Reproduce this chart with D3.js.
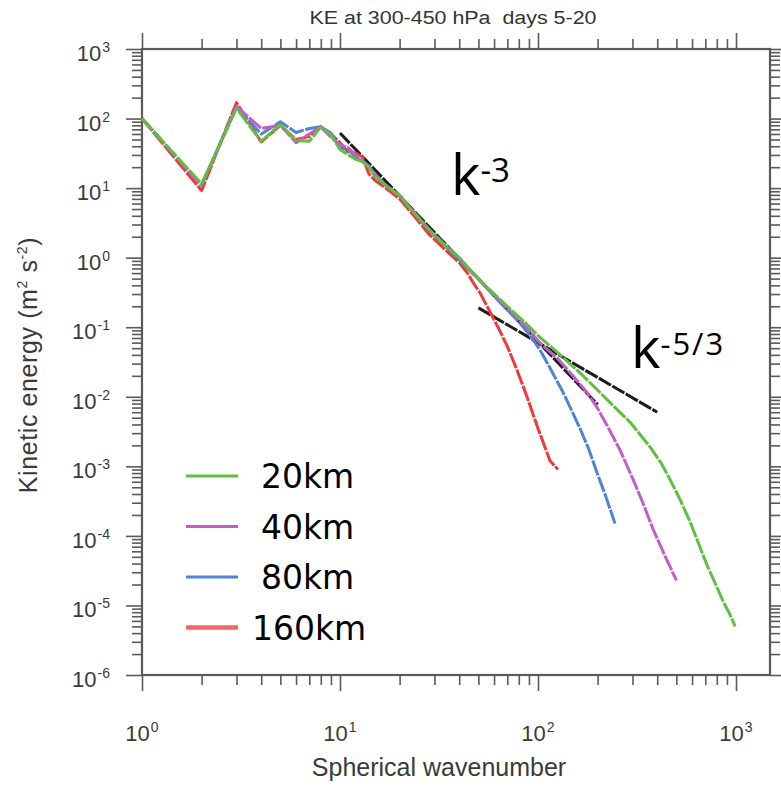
<!DOCTYPE html>
<html>
<head>
<meta charset="utf-8">
<script src="https://cdn.jsdelivr.net/npm/d3@7"></script>
<style>
  body { margin: 0; background: #fff; }
  svg { display: block; }
</style>
</head>
<body>
<svg width="781" height="786"></svg>
<script>
  // spectra: [wavenumber, kinetic energy]
  const ke20km = [[1,100],[2,11.5],[3,140],[4,47],[5,82],[6,48],[7,47],[8,76],[9,58],[10,36],[11,30],[12,26],[13,24],[14,20],[15,15],
    [17,11],[20,7.8],[24,4.2],[28,2.6],[34,1.5],[40,1.0],[45,0.68],[55,0.38],[70,0.2],[85,0.12],[102,0.072],[125,0.044],[163,0.022],
    [200,0.0125],[239,0.0075],[292,0.0043],[330,0.0028],[368,0.0019],[420,0.0011],[464,6.5e-4],[520,3.4e-4],[586,1.6e-4],[650,7.5e-5],
    [714,3.8e-5],[790,2e-5],[860,1.15e-5],[930,7.5e-6],[990,5e-6]];
  const ke40km = [[1,100],[2,11],[3,150],[4,72],[5,80],[6,45],[7,60],[8,76],[9,54],[10,42],[11,38],[12,30],[13,25],[14,20],[15,16],
    [17,11],[20,7.8],[24,4.3],[28,2.6],[34,1.5],[40,1.0],[45,0.68],[55,0.37],[70,0.19],[85,0.11],[102,0.06],[125,0.036],[150,0.02],
    [177,0.0115],[200,0.0068],[223,0.0039],[260,0.0017],[302,6.5e-4],[340,2.9e-4],[381,1.25e-4],[440,5e-5],[500,2.3e-5]];
  const ke80km = [[1,100],[2,11],[3,145],[4,60],[5,90],[6,63],[7,72],[8,76],[9,62],[10,38],[11,36],[12,28],[13,24],[14,21],[15,15],
    [17,11],[20,7.8],[24,4.2],[28,2.5],[34,1.45],[40,0.95],[45,0.65],[50,0.5],[57,0.33],[65,0.22],[78,0.13],[90,0.08],[102,0.048],
    [115,0.026],[134,0.0115],[150,0.0058],[163,0.0035],[180,0.0018],[199,8e-4],[220,3.7e-4],[245,1.5e-4]];
  const ke160km = [[1,100],[2,9.2],[3,170],[4,46],[5,80],[6,50],[7,55],[8,76],[9,60],[10,45],[11,33],[12,32],[13,28],[14,16],[15,13],
    [17,10],[20,7],[24,3.8],[28,2.2],[34,1.3],[40,0.85],[44,0.6],[47,0.44],[51,0.31],[57,0.17],[64,0.09],[70,0.053],[78,0.025],
    [88,0.01],[100,0.0035],[115,0.0012],[126,9e-4]];

  const seriesData = [ke160km, ke80km, ke40km, ke20km]; // drawn bottom to top
  const seriesNames = ["20km", "40km", "80km", "160km"];
  const seriesColors = { "20km": "#5ec03e", "40km": "#c35dc9", "80km": "#4e85d1", "160km": "#ef3a3a" };

  // reference slopes, end points
  const slopeK3 = [[10, 62], [200, 0.00775]];
  const slopeK53 = [[50, 0.19], [400, 0.006]];

  // tick labels
  const xMajor = [1, 10, 100, 1000];
  const xExp = ["0", "1", "2", "3"];
  const yMajor = [1e-6, 1e-5, 1e-4, 1e-3, 1e-2, 1e-1, 1, 10, 100, 1000];
  const yExp = ["-6", "-5", "-4", "-3", "-2", "-1", "0", "1", "2", "3"];

  const width = 781, height = 786;
  const margin = { top: 49, right: 11, bottom: 111, left: 142 };

  // log scales
  const x = d3.scaleLog()
    .domain([1, 1485])
    .range([margin.left, width - margin.right]);
  const y = d3.scaleLog()
    .domain([1e-6, 1e3])
    .range([height - margin.bottom, margin.top]);

  const xMinor = [1, 10, 100].flatMap(d => d3.range(2, 10).map(m => d * m));
  const yMinor = yMajor.slice(0, -1).flatMap(d => d3.range(2, 10).map(m => d * m));

  const svg = d3.select("svg");
  const axisColor = "#5a5a5a";
  const bottomY = height - margin.bottom;
  const rightX = width - margin.right;

  // ticks on all four sides, pointing out
  function styleAxis(g) {
    g.select(".domain").remove();
    g.selectAll("line").attr("stroke", axisColor).attr("stroke-width", 1.6);
  }
  const axes = [
    [d3.axisBottom(x), `translate(0,${bottomY})`, xMajor, xMinor],
    [d3.axisTop(x), `translate(0,${margin.top})`, xMajor, xMinor],
    [d3.axisLeft(y), `translate(${margin.left},0)`, yMajor, yMinor],
    [d3.axisRight(y), `translate(${rightX},0)`, yMajor, yMinor]
  ];
  axes.forEach(([ax, tr, major, minor]) => {
    svg.append("g").attr("transform", tr)
      .call(ax.tickValues(minor).tickSize(10).tickFormat(""))
      .call(styleAxis);
    svg.append("g").attr("transform", tr)
      .call(ax.tickValues(major).tickSize(16).tickFormat(""))
      .call(styleAxis);
  });

  // frame
  svg.append("rect")
    .attr("x", margin.left).attr("y", margin.top)
    .attr("width", rightX - margin.left).attr("height", bottomY - margin.top)
    .attr("fill", "none").attr("stroke", axisColor).attr("stroke-width", 2.2);

  const tickFont = "'Liberation Sans', Arial, sans-serif";

  // x tick labels
  svg.append("g").selectAll("text")
    .data(xMajor).join("text")
    .attr("x", d => x(d)).attr("y", 741)
    .attr("text-anchor", "middle")
    .attr("font-family", tickFont).attr("font-size", 22)
    .attr("fill", "#3a3a3a")
    .call(t => {
      t.append("tspan").text("10");
      t.append("tspan").attr("dx", 1).attr("dy", -9).attr("font-size", 14).text((d, i) => xExp[i]);
    });

  // y tick labels
  svg.append("g").selectAll("text")
    .data(yMajor).join("text")
    .attr("x", 110).attr("y", d => y(d) + 12)
    .attr("text-anchor", "end")
    .attr("font-family", tickFont).attr("font-size", 22)
    .attr("fill", "#3a3a3a")
    .call(t => {
      t.append("tspan").text("10");
      t.append("tspan").attr("dx", 1).attr("dy", -9).attr("font-size", 14).text((d, i) => yExp[i]);
    });

  // axis titles
  svg.append("text")
    .attr("x", 439).attr("y", 776)
    .attr("text-anchor", "middle")
    .attr("font-family", tickFont).attr("font-size", 25)
    .attr("fill", "#3a3a3a")
    .text("Spherical wavenumber");

  const yTitle = svg.append("text")
    .attr("transform", "translate(37,365) rotate(-90)")
    .attr("text-anchor", "middle")
    .attr("font-family", tickFont).attr("font-size", 25).attr("letter-spacing", 0.6)
    .attr("fill", "#3a3a3a");
  yTitle.append("tspan").text("Kinetic energy (m");
  yTitle.append("tspan").attr("dy", -10).attr("font-size", 14).text("2");
  yTitle.append("tspan").attr("dy", 10).text(" s");
  yTitle.append("tspan").attr("dy", -10).attr("font-size", 14).text("-2");
  yTitle.append("tspan").attr("dy", 10).text(")");

  // title
  svg.append("text")
    .attr("x", 453).attr("y", 24)
    .attr("text-anchor", "middle")
    .attr("font-family", tickFont).attr("font-size", 18)
    .attr("textLength", 287).attr("lengthAdjust", "spacingAndGlyphs")
    .attr("fill", "#333")
    .style("white-space", "pre")
    .text("KE at 300-450 hPa  days 5-20");

  const line = d3.line()
    .x(d => x(d[0]))
    .y(d => y(d[1]));

  // reference slopes
  [slopeK3, slopeK53].forEach(s => {
    svg.append("path")
      .datum(s)
      .attr("fill", "none")
      .attr("stroke", "#1c1c1c")
      .attr("stroke-width", 3)
      .attr("stroke-dasharray", "14,1.5")
      .attr("d", line);
  });

  // spectra
  const names = ["160km", "80km", "40km", "20km"];
  seriesData.forEach((s, i) => {
    svg.append("path")
      .datum(s)
      .attr("fill", "none")
      .attr("stroke", seriesColors[names[i]])
      .attr("stroke-width", 3)
      .attr("stroke-linejoin", "round")
      .attr("stroke-dasharray", "16,1.5")
      .attr("d", line);
  });

  // legend
  const legend = svg.append("g");
  seriesNames.forEach((n, i) => {
    const ly = 476 + i * 50.5;
    legend.append("line")
      .attr("x1", 186).attr("x2", 238)
      .attr("y1", ly).attr("y2", ly)
      .attr("stroke", n === "160km" ? "#f26666" : seriesColors[n])
      .attr("stroke-width", n === "160km" ? 4.5 : 3);
    legend.append("text")
      .attr("x", n === "160km" ? 252 : 261).attr("y", ly + 12)
      .attr("font-family", "'DejaVu Sans', sans-serif").attr("font-size", 33)
      .attr("fill", "#000")
      .text(n);
  });

  // slope annotations
  const annFont = "'Open Sans', sans-serif";
  const k3 = svg.append("text")
    .attr("x", 451).attr("y", 195)
    .attr("font-family", annFont).attr("font-size", 56).attr("fill", "#000");
  k3.append("tspan").text("k");
  k3.append("tspan").attr("dy", -13).attr("font-size", 33).text("-3");

  const k53 = svg.append("text")
    .attr("x", 631).attr("y", 368)
    .attr("font-family", annFont).attr("font-size", 56).attr("fill", "#000");
  k53.append("tspan").text("k");
  k53.append("tspan").attr("dy", -13).attr("font-size", 31).attr("letter-spacing", 2).text("-5/3");
</script>
</body>
</html>
